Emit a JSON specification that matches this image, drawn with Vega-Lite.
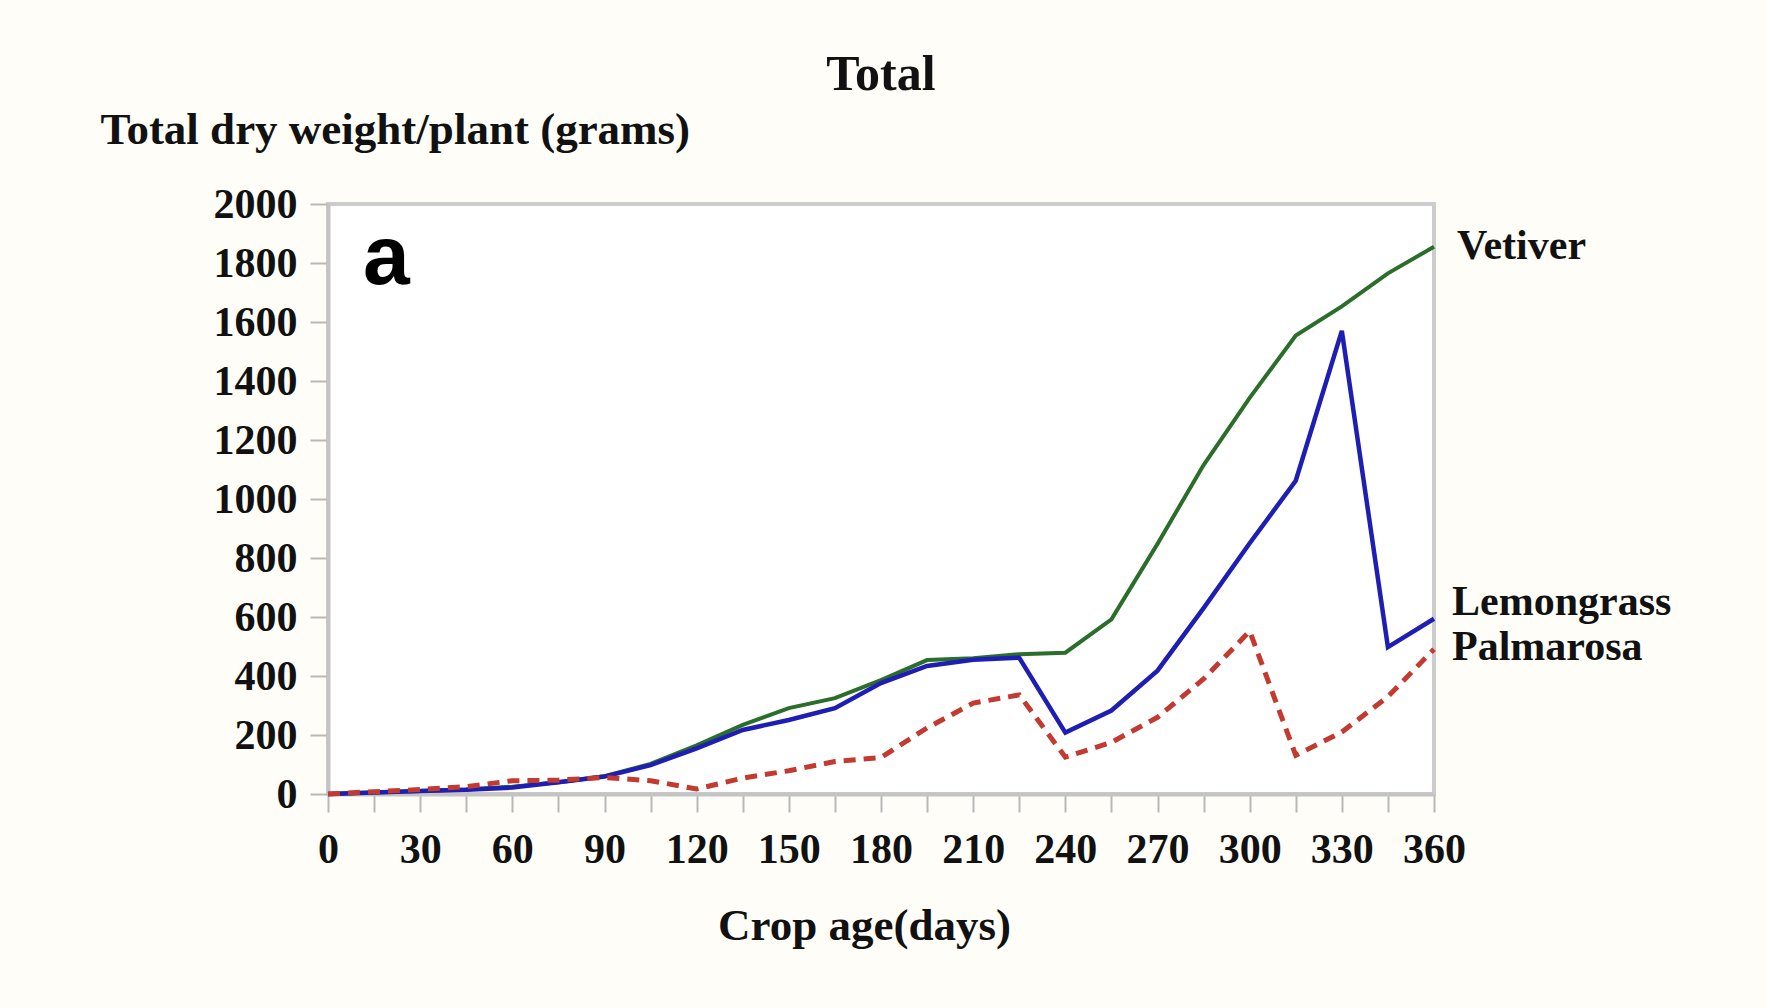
{
  "$schema": "https://vega.github.io/schema/vega-lite/v6.json",
  "autosize": {"type": "none"},
  "width": 1106,
  "height": 590,
  "padding": {"left": 328, "top": 204, "right": 333, "bottom": 214},
  "background": "#fffdf7",
  "title": {
    "text": "Total",
    "anchor": "middle",
    "frame": "group",
    "font": "Liberation Serif",
    "fontSize": 50,
    "fontWeight": "bold",
    "color": "#111111",
    "baseline": "alphabetic",
    "offset": -33
  },
  "config": {
    "view": {"stroke": "#cccccc", "strokeWidth": 4, "fill": "#ffffff"},
    "axis": {
      "grid": false,
      "domainColor": "#c4c4c4",
      "domainWidth": 4,
      "tickColor": "#b8b8b8",
      "tickWidth": 2,
      "tickSize": 18,
      "labelFont": "Liberation Serif",
      "labelFontWeight": "bold",
      "labelFontSize": 42,
      "labelColor": "#111111",
      "titleFont": "Liberation Serif",
      "titleFontWeight": "bold",
      "titleFontSize": 45,
      "titleColor": "#111111",
      "labelOverlap": false,
      "labelFlush": false
    }
  },
  "data": {
    "values": [
      {"day": 0, "value": 0, "species": "Vetiver"},
      {"day": 15, "value": 5, "species": "Vetiver"},
      {"day": 30, "value": 10, "species": "Vetiver"},
      {"day": 45, "value": 15, "species": "Vetiver"},
      {"day": 60, "value": 25, "species": "Vetiver"},
      {"day": 75, "value": 40, "species": "Vetiver"},
      {"day": 90, "value": 60, "species": "Vetiver"},
      {"day": 105, "value": 102, "species": "Vetiver"},
      {"day": 120, "value": 165, "species": "Vetiver"},
      {"day": 135, "value": 234, "species": "Vetiver"},
      {"day": 150, "value": 291, "species": "Vetiver"},
      {"day": 165, "value": 325, "species": "Vetiver"},
      {"day": 180, "value": 386, "species": "Vetiver"},
      {"day": 195, "value": 454, "species": "Vetiver"},
      {"day": 210, "value": 460, "species": "Vetiver"},
      {"day": 225, "value": 474, "species": "Vetiver"},
      {"day": 240, "value": 479, "species": "Vetiver"},
      {"day": 255, "value": 592, "species": "Vetiver"},
      {"day": 270, "value": 848, "species": "Vetiver"},
      {"day": 285, "value": 1115, "species": "Vetiver"},
      {"day": 300, "value": 1343, "species": "Vetiver"},
      {"day": 315, "value": 1554, "species": "Vetiver"},
      {"day": 330, "value": 1653, "species": "Vetiver"},
      {"day": 345, "value": 1765, "species": "Vetiver"},
      {"day": 360, "value": 1855, "species": "Vetiver"},
      {"day": 0, "value": 0, "species": "Lemongrass"},
      {"day": 15, "value": 5, "species": "Lemongrass"},
      {"day": 30, "value": 10, "species": "Lemongrass"},
      {"day": 45, "value": 14, "species": "Lemongrass"},
      {"day": 60, "value": 22, "species": "Lemongrass"},
      {"day": 75, "value": 40, "species": "Lemongrass"},
      {"day": 90, "value": 59, "species": "Lemongrass"},
      {"day": 105, "value": 98, "species": "Lemongrass"},
      {"day": 120, "value": 155, "species": "Lemongrass"},
      {"day": 135, "value": 217, "species": "Lemongrass"},
      {"day": 150, "value": 251, "species": "Lemongrass"},
      {"day": 165, "value": 291, "species": "Lemongrass"},
      {"day": 180, "value": 376, "species": "Lemongrass"},
      {"day": 195, "value": 434, "species": "Lemongrass"},
      {"day": 210, "value": 455, "species": "Lemongrass"},
      {"day": 225, "value": 462, "species": "Lemongrass"},
      {"day": 240, "value": 208, "species": "Lemongrass"},
      {"day": 255, "value": 283, "species": "Lemongrass"},
      {"day": 270, "value": 418, "species": "Lemongrass"},
      {"day": 285, "value": 630, "species": "Lemongrass"},
      {"day": 300, "value": 850, "species": "Lemongrass"},
      {"day": 315, "value": 1062, "species": "Lemongrass"},
      {"day": 330, "value": 1570, "species": "Lemongrass"},
      {"day": 345, "value": 498, "species": "Lemongrass"},
      {"day": 360, "value": 594, "species": "Lemongrass"},
      {"day": 0, "value": 0, "species": "Palmarosa"},
      {"day": 15, "value": 8, "species": "Palmarosa"},
      {"day": 30, "value": 15, "species": "Palmarosa"},
      {"day": 45, "value": 25, "species": "Palmarosa"},
      {"day": 60, "value": 45, "species": "Palmarosa"},
      {"day": 75, "value": 47, "species": "Palmarosa"},
      {"day": 90, "value": 56, "species": "Palmarosa"},
      {"day": 105, "value": 45, "species": "Palmarosa"},
      {"day": 120, "value": 17, "species": "Palmarosa"},
      {"day": 135, "value": 54, "species": "Palmarosa"},
      {"day": 150, "value": 79, "species": "Palmarosa"},
      {"day": 165, "value": 110, "species": "Palmarosa"},
      {"day": 180, "value": 124, "species": "Palmarosa"},
      {"day": 195, "value": 224, "species": "Palmarosa"},
      {"day": 210, "value": 308, "species": "Palmarosa"},
      {"day": 225, "value": 336, "species": "Palmarosa"},
      {"day": 240, "value": 125, "species": "Palmarosa"},
      {"day": 255, "value": 175, "species": "Palmarosa"},
      {"day": 270, "value": 260, "species": "Palmarosa"},
      {"day": 285, "value": 390, "species": "Palmarosa"},
      {"day": 300, "value": 552, "species": "Palmarosa"},
      {"day": 315, "value": 131, "species": "Palmarosa"},
      {"day": 330, "value": 210, "species": "Palmarosa"},
      {"day": 345, "value": 330, "species": "Palmarosa"},
      {"day": 360, "value": 491, "species": "Palmarosa"}
    ]
  },
  "encoding": {
    "x": {
      "field": "day",
      "type": "quantitative",
      "scale": {"domain": [0, 360], "nice": false, "zero": false},
      "axis": {
        "values": [0, 15, 30, 45, 60, 75, 90, 105, 120, 135, 150, 165, 180, 195, 210, 225, 240, 255, 270, 285, 300, 315, 330, 345, 360],
        "labelExpr": "datum.value % 30 == 0 ? datum.label : ''",
        "labelBaseline": "alphabetic",
        "labelPadding": 50,
        "title": "Crop age(days)",
        "titleX": 536,
        "titleY": 145,
        "titleAlign": "center",
        "titleBaseline": "alphabetic"
      }
    },
    "y": {
      "field": "value",
      "type": "quantitative",
      "scale": {"domain": [0, 2000], "nice": false},
      "axis": {
        "values": [0, 200, 400, 600, 800, 1000, 1200, 1400, 1600, 1800, 2000],
        "format": "d",
        "labelPadding": 13,
        "labelBaseline": "middle",
        "title": "Total dry weight/plant (grams)",
        "titleAngle": 0,
        "titleX": -228,
        "titleY": -61,
        "titleAlign": "left",
        "titleBaseline": "alphabetic"
      }
    }
  },
  "layer": [
    {
      "transform": [{"filter": "datum.species == 'Vetiver'"}],
      "mark": {"type": "line", "color": "#2b6e2b", "strokeWidth": 4}
    },
    {
      "transform": [{"filter": "datum.species == 'Lemongrass'"}],
      "mark": {"type": "line", "color": "#1e1eb4", "strokeWidth": 4.5}
    },
    {
      "transform": [{"filter": "datum.species == 'Palmarosa'"}],
      "mark": {"type": "line", "color": "#c23a30", "strokeWidth": 5, "strokeDash": [12, 8]}
    },
    {
      "transform": [{"filter": "datum.species == 'Vetiver' && datum.day == 360"}],
      "mark": {"type": "text", "align": "left", "baseline": "alphabetic", "dx": 23, "dy": 12, "font": "Liberation Serif", "fontWeight": "bold", "fontSize": 42, "color": "#111111"},
      "encoding": {"text": {"field": "species"}}
    },
    {
      "transform": [{"filter": "datum.species == 'Lemongrass' && datum.day == 360"}],
      "mark": {"type": "text", "align": "left", "baseline": "alphabetic", "dx": 18, "dy": -4, "font": "Liberation Serif", "fontWeight": "bold", "fontSize": 42, "color": "#111111"},
      "encoding": {"text": {"field": "species"}}
    },
    {
      "transform": [{"filter": "datum.species == 'Palmarosa' && datum.day == 360"}],
      "mark": {"type": "text", "align": "left", "baseline": "alphabetic", "dx": 18, "dy": 11, "font": "Liberation Serif", "fontWeight": "bold", "fontSize": 42, "color": "#111111"},
      "encoding": {"text": {"field": "species"}}
    },
    {
      "data": {"values": [{"day": 19, "value": 1729, "label": "a"}]},
      "mark": {"type": "text", "align": "center", "baseline": "alphabetic", "font": "Liberation Sans", "fontWeight": "bold", "fontSize": 84, "color": "#000000"},
      "encoding": {
        "text": {"field": "label", "type": "nominal"}
      }
    }
  ]
}
